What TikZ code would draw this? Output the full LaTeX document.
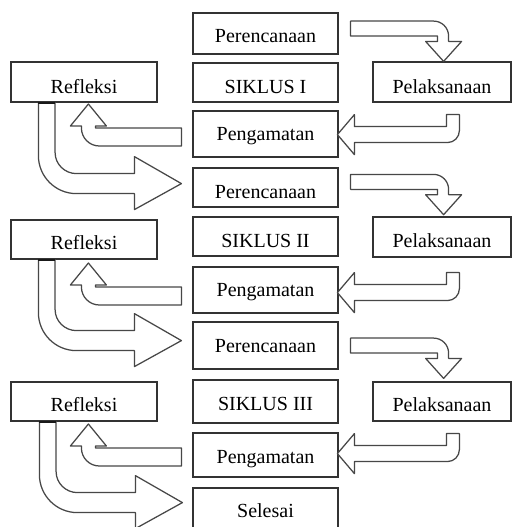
\documentclass[tikz,border=0pt]{standalone}
\usepackage{fontspec}
\setmainfont{Liberation Serif}
\usetikzlibrary{calc}
\tikzset{
  box/.style={draw=black!80, line width=1.2pt, fill=white, inner sep=0pt,
    text depth=2pt, text height=21pt, font=\fontsize{20}{22}\selectfont},
  cbox/.style={box, minimum width=145pt},
  rbox/.style={box, minimum width=146pt},
  lbox/.style={box, minimum width=138pt},
  blk/.style={draw=black!72, line width=1.25pt, fill=white, line join=round},
  rarrow/.pic={\path[blk] (0,0) -- (83,0) .. controls (91.3,0) and (98,6.7) .. (98,15)
      -- (98,20.3) -- (111,20.3) -- (93,40.3) -- (75,20.3) -- (87,20.3) -- (87,15) -- (0,15) -- cycle;},
  larrow/.pic={\path[blk] (0,0) -- (0,16) .. controls (0,22.6) and (-5.4,28) .. (-12,28)
      -- (-105,28) -- (-105,40) -- (-122,20) -- (-105,0) -- (-105,12) -- (-13,12) -- (-13,0) -- cycle;},
  uarrow/.pic={\path[blk] (0,0) -- (-86,0) -- (-86,-2) -- (-75,-2) -- (-93,-24) -- (-111,-2)
      -- (-100,-2) -- (-100,0) .. controls (-100,9.9) and (-92,18) .. (-82,18) -- (0,18) -- cycle;},
  barrow/.pic={\path[blk] (0,0) -- (16.7,0) -- (16.7,50) .. controls (16.7,61.6) and (26.4,71) .. (38,71)
      -- (96,71) -- (96,54) -- (143,81) -- (96,107) -- (96,91) -- (38,91)
      .. controls (17,91) and (0,74) .. (0,53) -- cycle;
      \draw[black!90, line width=2.2pt] (0,0.5) -- (16.7,0.5);},
}
\begin{document}
\begin{tikzpicture}[x=1pt,y=-1pt]
\useasboundingbox (0,0) rectangle (512,527);
\fill[white] (0,0) rectangle (512,527);
% centre column
\node[cbox, minimum height=41pt] (p1) at (265.5,33.5) {Perencanaan};
\node[cbox, minimum height=39pt, text height=23pt] (s1) at (265.5,82.5) {SIKLUS I};
\node[cbox, minimum height=46pt, text height=14pt] (g1) at (265.5,134) {Pengamatan};
\node[cbox, minimum height=39pt, text height=23pt] (p2) at (265.5,187.5) {Perencanaan};
\node[cbox, minimum height=39pt, text height=23pt] (s2) at (265.5,236.5) {SIKLUS II};
\node[cbox, minimum height=46pt, text height=14pt] (g2) at (265.5,290) {Pengamatan};
\node[cbox, minimum height=47pt, text height=15pt] (p3) at (265.5,345.5) {Perencanaan};
\node[cbox, minimum height=43pt, text height=19pt] (s3) at (265.5,401.5) {SIKLUS III};
\node[cbox, minimum height=44pt, text height=18pt] (g3) at (265.5,455) {Pengamatan};
\node[cbox, minimum height=40pt] (sel) at (265.5,508) {Selesai};
% left column
\node[rbox, minimum height=40pt, text height=24pt] (r1) at (84,82) {Refleksi};
\node[rbox, minimum height=39pt] (r2) at (84,239.5) {Refleksi};
\node[rbox, minimum height=39pt] (r3) at (84,401.5) {Refleksi};
% right column
\node[lbox, minimum height=40pt, text height=24pt] (l1) at (442,82) {Pelaksanaan};
\node[lbox, minimum height=40pt, text height=22pt] (l2) at (442,237) {Pelaksanaan};
\node[lbox, minimum height=39pt] (l3) at (442,401.5) {Pelaksanaan};
% block arrows
\pic at ($(p1.north east)+(12,8.7)$) {rarrow};
\pic at ($(p2.north east)+(12,7)$) {rarrow};
\pic at ($(p3.north east)+(12,16.7)$) {rarrow};
\pic at ($(l1.south west)+(87,12)$) {larrow};
\pic at ($(l2.south west)+(87,15)$) {larrow};
\pic at ($(l3.south west)+(87,12)$) {larrow};
\pic at ($(g1.west)+(-11,-6)$) {uarrow};
\pic at ($(g2.west)+(-11,-3)$) {uarrow};
\pic at ($(g3.west)+(-11,-7)$) {uarrow};
\pic at ($(r1.south west)+(28,0)$) {barrow};
\pic at ($(r2.south west)+(28,0)$) {barrow};
\pic at ($(r3.south west)+(29,0)$) {barrow};
\end{tikzpicture}
\end{document}
